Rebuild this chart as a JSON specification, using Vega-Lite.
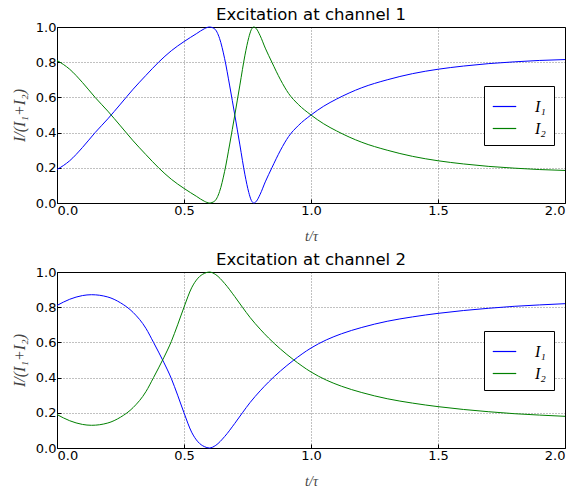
{
  "$schema": "https://vega.github.io/schema/vega-lite/v6.json",
  "background": "white",
  "padding": {"left": 10, "top": 6, "right": 10, "bottom": 0},
  "spacing": 7,
  "config": {
    "font": "DejaVu Sans",
    "view": {"stroke": "black", "strokeWidth": 1},
    "axis": {
      "labelFont": "DejaVu Sans",
      "labelFontSize": 13,
      "labelColor": "black",
      "domain": false,
      "ticks": true,
      "tickColor": "black",
      "tickSize": -4,
      "labelPadding": 5,
      "grid": true,
      "gridColor": "black",
      "gridDash": [1, 2],
      "gridOpacity": 0.7,
      "gridWidth": 0.7,
      "titleFont": "Liberation Serif",
      "titleFontStyle": "italic",
      "titleFontWeight": "normal",
      "titleFontSize": 16,
      "titleColor": "#444"
    },
    "title": {"font": "DejaVu Sans", "fontSize": 16.5, "fontWeight": "normal", "color": "black", "offset": -2},
    "legend": {
      "orient": "none",
      "legendX": 427,
      "legendY": 59,
      "strokeColor": "black",
      "fillColor": "white",
      "padding": 8,
      "symbolType": "stroke",
      "symbolSize": 550,
      "symbolStrokeWidth": 1.2,
      "labelFont": "Liberation Serif",
      "labelFontStyle": "italic",
      "labelFontSize": 16,
      "labelOffset": 18,
      "rowPadding": 1,
      "title": null
    }
  },
  "datasets": {
    "d": [
      {"p":1,"s":"I₁","t":0,"v":0.19},{"p":1,"s":"I₁","t":0.05,"v":0.24},{"p":1,"s":"I₁","t":0.1,"v":0.315},{"p":1,"s":"I₁","t":0.15,"v":0.4},{"p":1,"s":"I₁","t":0.2,"v":0.478},{"p":1,"s":"I₁","t":0.25,"v":0.562},{"p":1,"s":"I₁","t":0.3,"v":0.647},{"p":1,"s":"I₁","t":0.35,"v":0.725},{"p":1,"s":"I₁","t":0.4,"v":0.8},{"p":1,"s":"I₁","t":0.45,"v":0.865},{"p":1,"s":"I₁","t":0.5,"v":0.917},{"p":1,"s":"I₁","t":0.55,"v":0.963},{"p":1,"s":"I₁","t":0.58,"v":0.99},{"p":1,"s":"I₁","t":0.6,"v":1.0},{"p":1,"s":"I₁","t":0.62,"v":0.99},{"p":1,"s":"I₁","t":0.64,"v":0.935},{"p":1,"s":"I₁","t":0.66,"v":0.82},{"p":1,"s":"I₁","t":0.68,"v":0.665},{"p":1,"s":"I₁","t":0.7,"v":0.5},{"p":1,"s":"I₁","t":0.72,"v":0.33},{"p":1,"s":"I₁","t":0.74,"v":0.16},{"p":1,"s":"I₁","t":0.755,"v":0.06},{"p":1,"s":"I₁","t":0.765,"v":0.015},{"p":1,"s":"I₁","t":0.775,"v":0.0},{"p":1,"s":"I₁","t":0.785,"v":0.01},{"p":1,"s":"I₁","t":0.8,"v":0.05},{"p":1,"s":"I₁","t":0.82,"v":0.12},{"p":1,"s":"I₁","t":0.846,"v":0.2},{"p":1,"s":"I₁","t":0.88,"v":0.3},{"p":1,"s":"I₁","t":0.912,"v":0.378},{"p":1,"s":"I₁","t":0.95,"v":0.44},{"p":1,"s":"I₁","t":1.0,"v":0.5},{"p":1,"s":"I₁","t":1.05,"v":0.55},{"p":1,"s":"I₁","t":1.1,"v":0.59},{"p":1,"s":"I₁","t":1.15,"v":0.625},{"p":1,"s":"I₁","t":1.2,"v":0.655},{"p":1,"s":"I₁","t":1.3,"v":0.7},{"p":1,"s":"I₁","t":1.4,"v":0.735},{"p":1,"s":"I₁","t":1.5,"v":0.76},{"p":1,"s":"I₁","t":1.6,"v":0.778},{"p":1,"s":"I₁","t":1.7,"v":0.792},{"p":1,"s":"I₁","t":1.8,"v":0.802},{"p":1,"s":"I₁","t":1.9,"v":0.81},{"p":1,"s":"I₁","t":2.0,"v":0.815},
      {"p":1,"s":"I₂","t":0,"v":0.81},{"p":1,"s":"I₂","t":0.05,"v":0.76},{"p":1,"s":"I₂","t":0.1,"v":0.685},{"p":1,"s":"I₂","t":0.15,"v":0.6},{"p":1,"s":"I₂","t":0.2,"v":0.522},{"p":1,"s":"I₂","t":0.25,"v":0.438},{"p":1,"s":"I₂","t":0.3,"v":0.353},{"p":1,"s":"I₂","t":0.35,"v":0.275},{"p":1,"s":"I₂","t":0.4,"v":0.2},{"p":1,"s":"I₂","t":0.45,"v":0.135},{"p":1,"s":"I₂","t":0.5,"v":0.083},{"p":1,"s":"I₂","t":0.55,"v":0.037},{"p":1,"s":"I₂","t":0.58,"v":0.01},{"p":1,"s":"I₂","t":0.6,"v":0.0},{"p":1,"s":"I₂","t":0.62,"v":0.01},{"p":1,"s":"I₂","t":0.64,"v":0.065},{"p":1,"s":"I₂","t":0.66,"v":0.18},{"p":1,"s":"I₂","t":0.68,"v":0.335},{"p":1,"s":"I₂","t":0.7,"v":0.5},{"p":1,"s":"I₂","t":0.72,"v":0.67},{"p":1,"s":"I₂","t":0.74,"v":0.84},{"p":1,"s":"I₂","t":0.755,"v":0.94},{"p":1,"s":"I₂","t":0.765,"v":0.985},{"p":1,"s":"I₂","t":0.775,"v":1.0},{"p":1,"s":"I₂","t":0.785,"v":0.99},{"p":1,"s":"I₂","t":0.8,"v":0.95},{"p":1,"s":"I₂","t":0.82,"v":0.88},{"p":1,"s":"I₂","t":0.846,"v":0.8},{"p":1,"s":"I₂","t":0.88,"v":0.7},{"p":1,"s":"I₂","t":0.912,"v":0.622},{"p":1,"s":"I₂","t":0.95,"v":0.56},{"p":1,"s":"I₂","t":1.0,"v":0.5},{"p":1,"s":"I₂","t":1.05,"v":0.45},{"p":1,"s":"I₂","t":1.1,"v":0.41},{"p":1,"s":"I₂","t":1.15,"v":0.375},{"p":1,"s":"I₂","t":1.2,"v":0.345},{"p":1,"s":"I₂","t":1.3,"v":0.3},{"p":1,"s":"I₂","t":1.4,"v":0.265},{"p":1,"s":"I₂","t":1.5,"v":0.24},{"p":1,"s":"I₂","t":1.6,"v":0.222},{"p":1,"s":"I₂","t":1.7,"v":0.208},{"p":1,"s":"I₂","t":1.8,"v":0.198},{"p":1,"s":"I₂","t":1.9,"v":0.19},{"p":1,"s":"I₂","t":2.0,"v":0.185},
      {"p":2,"s":"I₁","t":0,"v":0.81},{"p":2,"s":"I₁","t":0.05,"v":0.845},{"p":2,"s":"I₁","t":0.1,"v":0.866},{"p":2,"s":"I₁","t":0.136,"v":0.871},{"p":2,"s":"I₁","t":0.2,"v":0.858},{"p":2,"s":"I₁","t":0.25,"v":0.825},{"p":2,"s":"I₁","t":0.3,"v":0.77},{"p":2,"s":"I₁","t":0.35,"v":0.68},{"p":2,"s":"I₁","t":0.38,"v":0.6},{"p":2,"s":"I₁","t":0.4,"v":0.545},{"p":2,"s":"I₁","t":0.42,"v":0.488},{"p":2,"s":"I₁","t":0.45,"v":0.395},{"p":2,"s":"I₁","t":0.475,"v":0.3},{"p":2,"s":"I₁","t":0.5,"v":0.2},{"p":2,"s":"I₁","t":0.53,"v":0.09},{"p":2,"s":"I₁","t":0.555,"v":0.035},{"p":2,"s":"I₁","t":0.58,"v":0.008},{"p":2,"s":"I₁","t":0.6,"v":0.0},{"p":2,"s":"I₁","t":0.625,"v":0.015},{"p":2,"s":"I₁","t":0.66,"v":0.065},{"p":2,"s":"I₁","t":0.7,"v":0.14},{"p":2,"s":"I₁","t":0.73,"v":0.2},{"p":2,"s":"I₁","t":0.76,"v":0.258},{"p":2,"s":"I₁","t":0.8,"v":0.325},{"p":2,"s":"I₁","t":0.833,"v":0.375},{"p":2,"s":"I₁","t":0.88,"v":0.438},{"p":2,"s":"I₁","t":0.93,"v":0.497},{"p":2,"s":"I₁","t":1.0,"v":0.568},{"p":2,"s":"I₁","t":1.06,"v":0.614},{"p":2,"s":"I₁","t":1.12,"v":0.649},{"p":2,"s":"I₁","t":1.2,"v":0.685},{"p":2,"s":"I₁","t":1.3,"v":0.72},{"p":2,"s":"I₁","t":1.4,"v":0.745},{"p":2,"s":"I₁","t":1.5,"v":0.765},{"p":2,"s":"I₁","t":1.6,"v":0.781},{"p":2,"s":"I₁","t":1.7,"v":0.794},{"p":2,"s":"I₁","t":1.8,"v":0.805},{"p":2,"s":"I₁","t":1.9,"v":0.813},{"p":2,"s":"I₁","t":2.0,"v":0.82},
      {"p":2,"s":"I₂","t":0,"v":0.19},{"p":2,"s":"I₂","t":0.05,"v":0.155},{"p":2,"s":"I₂","t":0.1,"v":0.134},{"p":2,"s":"I₂","t":0.136,"v":0.129},{"p":2,"s":"I₂","t":0.2,"v":0.142},{"p":2,"s":"I₂","t":0.25,"v":0.175},{"p":2,"s":"I₂","t":0.3,"v":0.23},{"p":2,"s":"I₂","t":0.35,"v":0.32},{"p":2,"s":"I₂","t":0.38,"v":0.4},{"p":2,"s":"I₂","t":0.4,"v":0.455},{"p":2,"s":"I₂","t":0.42,"v":0.512},{"p":2,"s":"I₂","t":0.45,"v":0.605},{"p":2,"s":"I₂","t":0.475,"v":0.7},{"p":2,"s":"I₂","t":0.5,"v":0.8},{"p":2,"s":"I₂","t":0.53,"v":0.91},{"p":2,"s":"I₂","t":0.555,"v":0.965},{"p":2,"s":"I₂","t":0.58,"v":0.992},{"p":2,"s":"I₂","t":0.6,"v":1.0},{"p":2,"s":"I₂","t":0.625,"v":0.985},{"p":2,"s":"I₂","t":0.66,"v":0.935},{"p":2,"s":"I₂","t":0.7,"v":0.86},{"p":2,"s":"I₂","t":0.73,"v":0.8},{"p":2,"s":"I₂","t":0.76,"v":0.742},{"p":2,"s":"I₂","t":0.8,"v":0.675},{"p":2,"s":"I₂","t":0.833,"v":0.625},{"p":2,"s":"I₂","t":0.88,"v":0.562},{"p":2,"s":"I₂","t":0.93,"v":0.503},{"p":2,"s":"I₂","t":1.0,"v":0.432},{"p":2,"s":"I₂","t":1.06,"v":0.386},{"p":2,"s":"I₂","t":1.12,"v":0.351},{"p":2,"s":"I₂","t":1.2,"v":0.315},{"p":2,"s":"I₂","t":1.3,"v":0.28},{"p":2,"s":"I₂","t":1.4,"v":0.255},{"p":2,"s":"I₂","t":1.5,"v":0.235},{"p":2,"s":"I₂","t":1.6,"v":0.219},{"p":2,"s":"I₂","t":1.7,"v":0.206},{"p":2,"s":"I₂","t":1.8,"v":0.195},{"p":2,"s":"I₂","t":1.9,"v":0.187},{"p":2,"s":"I₂","t":2.0,"v":0.18}
    ]
  },
  "resolve": {"scale": {"color": "independent"}, "legend": {"color": "independent"}},
  "vconcat": [
    {
      "title": {"text": "Excitation at channel 1"},
      "width": 508,
      "height": 176,
      "data": {"name": "d"},
      "transform": [{"filter": "datum.p == 1"}],
      "mark": {"type": "line", "strokeWidth": 1, "interpolate": "monotone"},
      "encoding": {
        "x": {"field": "t", "type": "quantitative", "scale": {"domain": [0, 2], "nice": false}, "axis": {"values": [0, 0.5, 1, 1.5, 2], "format": ".1f", "title": "t/τ", "titlePadding": 12, "titleFontSize": 14}},
        "y": {"field": "v", "type": "quantitative", "scale": {"domain": [0, 1], "nice": false}, "axis": {"values": [0, 0.2, 0.4, 0.6, 0.8, 1], "format": ".1f", "title": "I/(I₁+I₂)", "titlePadding": 8}},
        "color": {"field": "s", "type": "nominal", "scale": {"domain": ["I₁", "I₂"], "range": ["#0000ff", "#008000"]}}
      }
    },
    {
      "title": {"text": "Excitation at channel 2"},
      "width": 508,
      "height": 176,
      "data": {"name": "d"},
      "transform": [{"filter": "datum.p == 2"}],
      "mark": {"type": "line", "strokeWidth": 1, "interpolate": "monotone"},
      "encoding": {
        "x": {"field": "t", "type": "quantitative", "scale": {"domain": [0, 2], "nice": false}, "axis": {"values": [0, 0.5, 1, 1.5, 2], "format": ".1f", "title": "t/τ", "titlePadding": 12, "titleFontSize": 14}},
        "y": {"field": "v", "type": "quantitative", "scale": {"domain": [0, 1], "nice": false}, "axis": {"values": [0, 0.2, 0.4, 0.6, 0.8, 1], "format": ".1f", "title": "I/(I₁+I₂)", "titlePadding": 8}},
        "color": {"field": "s", "type": "nominal", "scale": {"domain": ["I₁", "I₂"], "range": ["#0000ff", "#008000"]}}
      }
    }
  ]
}
